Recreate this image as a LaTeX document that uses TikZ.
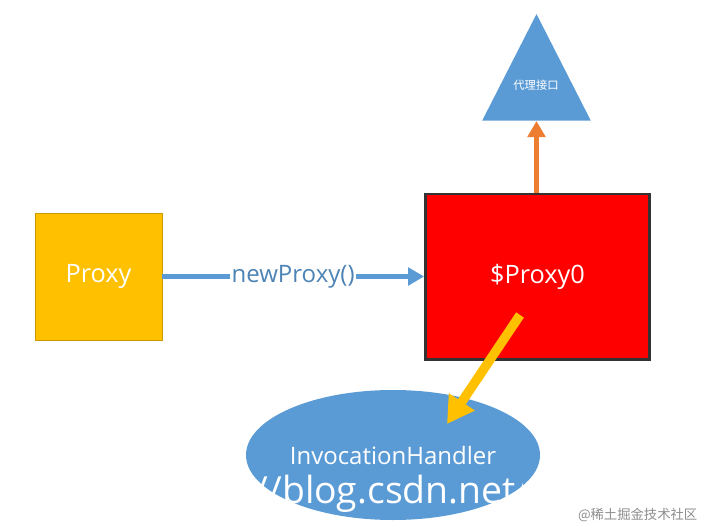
\documentclass[tikz,border=0pt]{standalone}
\usepackage{fontspec}
\setmainfont{Open Sans}
\newfontfamily\cjk{Noto Sans CJK SC}
\usetikzlibrary{shapes.geometric,arrows.meta}
\definecolor{bl}{HTML}{5B9BD5}
\definecolor{yl}{HTML}{FFC000}
\definecolor{og}{HTML}{ED7D31}
\tikzset{conn/.style={line width=3.8pt,-{Triangle[length=12pt,width=13pt]}}}
\begin{document}
\begin{tikzpicture}[x=0.75pt,y=-0.75pt]
\useasboundingbox (0,0) rectangle (707,528);
\node[fill=bl,ellipse,minimum width=220.5pt,minimum height=97.5pt,inner sep=0] (ih) at (393,455) {};
\node[text=white,font=\fontsize{18}{18}\selectfont] (iht) at (393,455) {InvocationHandler};
\begin{scope}
\clip (246,380) rectangle (522,528);
\node[text=white,font=\fontsize{28}{28}\selectfont,anchor=west] (wm) at (250,494) {//blog.csdn.net/};
\end{scope}
\node[fill=yl,draw=yl!80!black,line width=0.3pt,minimum size=95pt,text=white,font=\fontsize{19}{19}\selectfont] (p) at (98.5,276.5) {Proxy};
\node[fill=red,draw=black!80,line width=2pt,minimum width=168pt,minimum height=124pt,text=white,font=\fontsize{19}{19}\selectfont] (p0) at (537.5,276.5) {\$Proxy0};
\node[fill=bl,isosceles triangle,isosceles triangle apex angle=54,shape border rotate=90,minimum height=80pt,inner sep=0,anchor=south] (t) at (536.5,121) {};
\node[text=white,font=\cjk\fontsize{8.5}{8.5}\selectfont] (tt) at (536,85) {代理接口};
\draw[conn,bl] (p.east) -- node[fill=white,inner sep=1pt,text=bl!85!black,font=\fontsize{18}{18}\selectfont] (lab) {newProxy()} (p0.west);
\draw[conn,og] (p0.north -| t.south) -- (t.south);
\coordinate (ys) at (520,315);
\coordinate (ye) at (447,424);
\draw[yl,line width=7pt,-{Triangle[length=20pt,width=22pt]}] (ys) -- (ye);
\node[text=black!45,font=\cjk\fontsize{10}{10}\selectfont,anchor=east] (w2) at (702,515) {@稀土掘金技术社区};
\end{tikzpicture}
\end{document}
